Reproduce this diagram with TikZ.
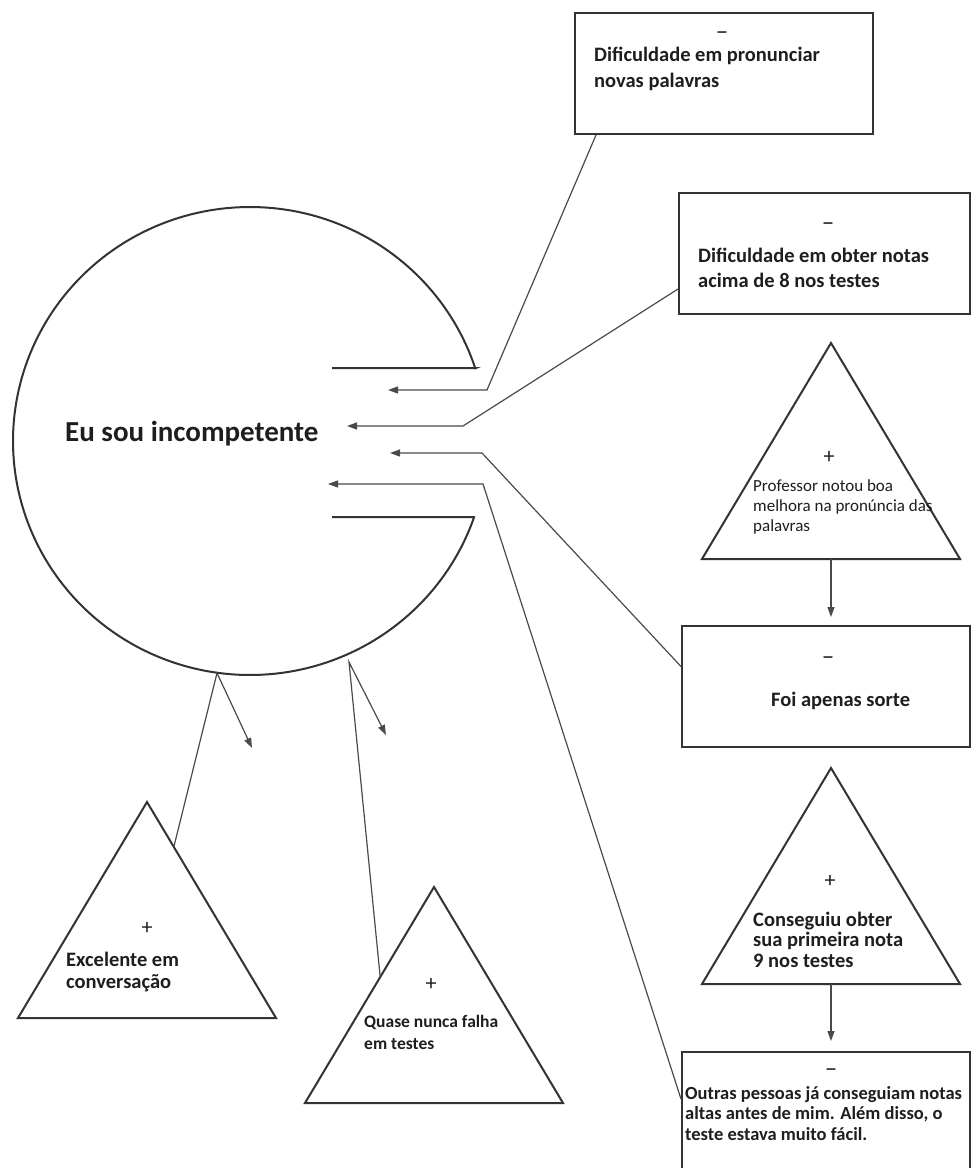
\documentclass[tikz,border=0pt]{standalone}
\usepackage{fontspec}
\setmainfont{Carlito}
\usetikzlibrary{arrows.meta,calc}
\definecolor{shp}{HTML}{333333}
\definecolor{lin}{HTML}{4A4A4A}
\definecolor{txt}{HTML}{1E1E1E}
\begin{document}
\begin{tikzpicture}[x=1pt,y=-1pt,
  shapeline/.style={draw=shp, line width=2pt},
  conn/.style={draw=lin, line width=1.2pt},
  arr/.style={conn, -{Triangle[length=10pt,width=7pt]}},
  boxnode/.style={draw=shp, line width=2pt, rectangle, inner sep=0pt},
  lbl/.style={inner sep=0pt, anchor=base west, align=left, text=txt},
  signlbl/.style={inner sep=0pt, text=txt, font=\fontsize{25}{25}\selectfont},
  plusl/.style={inner sep=0pt, text=txt, font=\fontsize{22}{22}\selectfont},
  tri/.pic={\draw[shapeline] (0,0) coordinate (-apex) -- (-129,216) coordinate (-bl) -- (129,216) coordinate (-br) -- cycle;
            \coordinate (-base) at (0,216);}
]
\useasboundingbox[fill=white] (0,0) rectangle (973,1168);

% central circle with opening
\coordinate (cc) at (250,441);
\draw[shapeline] (332,368) -- (476,368) -- plot[domain=-18.1:-341, samples=200, smooth] ({250+237*cos(\x)},{441+234*sin(\x)}) -- (473,517) -- (332,517);
\node[lbl, font=\fontsize{29}{34}\selectfont\bfseries] (me) at (65,441) {Eu sou incompetente};

% boxes
\node[boxnode, minimum width=298pt, minimum height=121pt] (b1) at (724,73.5) {};
\node[boxnode, minimum width=291pt, minimum height=121pt] (b2) at (824.5,253.5) {};
\node[boxnode, minimum width=288pt, minimum height=121pt] (b3) at (826,686.5) {};
\node[boxnode, minimum width=288pt, minimum height=128pt] (b4) at (826,1116) {};

\node[signlbl] (d1) at (722,36) {–};
\node[lbl, font=\fontsize{20.5}{26}\selectfont\bfseries] (l1) at (594,87) {Dificuldade em pronunciar\\novas palavras};
\node[signlbl] (d2) at (828,227) {–};
\node[lbl, font=\fontsize{20.5}{25}\selectfont\bfseries] (l2) at (698,287) {Dificuldade em obter notas\\acima de 8 nos testes};
\node[signlbl] (d3) at (828,661) {–};
\node[lbl, font=\fontsize{20.5}{25}\selectfont\bfseries] (l3) at (771,706) {Foi apenas sorte};
\node[signlbl] (d4) at (831,1073) {–};
\node[lbl, font=\fontsize{18.5}{20.5}\selectfont\bfseries] (l4) at (685,1140) {Outras pessoas já conseguiam notas\\altas antes de mim. Além disso, o\\teste estava muito fácil.};

% triangles
\pic (t1) at (831,343) {tri};
\pic (t2) at (831,768) {tri};
\pic (t3) at (147,802) {tri};
\pic (t4) at (434,887) {tri};

\node[plusl] (p1) at (829,457) {+};
\node[lbl, font=\fontsize{17}{20}\selectfont] (l5) at (753,531) {Professor notou boa\\melhora na pronúncia das\\palavras};
\node[plusl] (p2) at (830,881) {+};
\node[lbl, font=\fontsize{20.5}{20.5}\selectfont\bfseries] (l6) at (753,967) {Conseguiu obter\\sua primeira nota\\9 nos testes};
\node[plusl] (p3) at (147,928) {+};
\node[lbl, font=\fontsize{20.5}{22}\selectfont\bfseries] (l7) at (66,988) {Excelente em\\conversação};
\node[plusl] (p4) at (431,984) {+};
\node[lbl, font=\fontsize{17.5}{22}\selectfont\bfseries] (l8) at (364,1049) {Quase nunca falha\\em testes};

% connector bends and tips
\coordinate (k1) at (487,390); \coordinate (a1) at (388,390);
\coordinate (k2) at (463,426); \coordinate (a2) at (347,426);
\coordinate (k3) at (482,453); \coordinate (a3) at (390,453);
\coordinate (k4) at (483,484); \coordinate (a4) at (328,484);
\coordinate (c5) at (217,673); \coordinate (a5) at (252,748);
\coordinate (c6) at (349,662); \coordinate (a6) at (386,735);
\coordinate (v1) at (831,617);
\coordinate (v2) at (831,1041);

\draw[arr] ($(b1.south west)+(22,0)$) -- (k1) -- (a1);
\draw[arr] ($(b2.south west)+(0,-26)$) -- (k2) -- (a2);
\draw[arr] ($(b3.west)+(0,-20)$) -- (k3) -- (a3);
\draw[arr] ($(b4.north west)+(0,48)$) -- (k4) -- (a4);
\draw[arr] ($(t3-apex)!0.208!(t3-br)$) -- (c5) -- (a5);
\draw[arr] ($(t4-apex)!0.417!(t4-bl)$) -- (c6) -- (a6);
\draw[arr] (t1-base) -- (v1);
\draw[arr] (t2-base) -- (v2);
\end{tikzpicture}
\end{document}
